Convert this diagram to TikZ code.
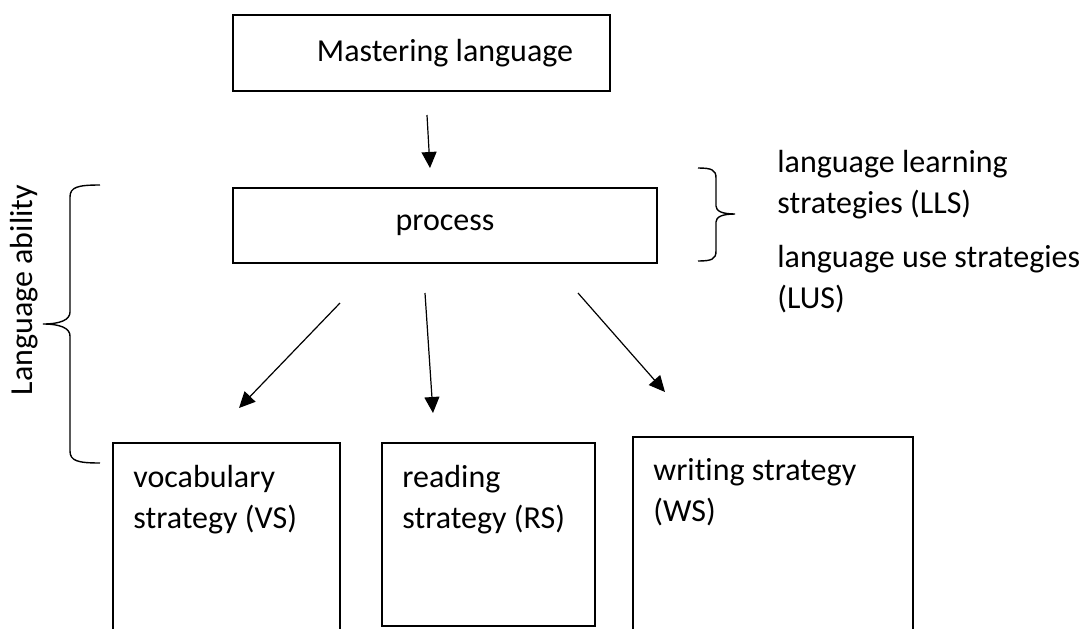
\documentclass[tikz,border=0pt]{standalone}
\usepackage{fontspec}
\setmainfont{Carlito}[Ligatures=NoCommon]
\usetikzlibrary{arrows.meta}

\tikzset{
  box/.style={draw, line width=0.7pt, inner sep=0pt},
  txt/.style={font=\fontsize{16}{20.5}\selectfont, inner sep=0pt},
  btxt/.style={txt, align=left, anchor=north west},
  arr/.style={-{Triangle[length=8pt,width=7.5pt]}, line width=0.6pt},
  brc/.style={line width=0.7pt},
}

\begin{document}
\begin{tikzpicture}[x=0.5pt,y=-0.5pt]
\clip (0,0) rectangle (1084,628);

% top
\node[box, minimum width=188.5pt, minimum height=38pt] (master) at (421.5,53) {};
\node[txt] (mastertxt) at (445,53) {Mastering language};

\node[box, txt, minimum width=212pt, minimum height=37.5pt] (proc) at (445,225.5) {process};

% bottom boxes
\node[box, minimum width=113.5pt, minimum height=118.5pt] (vs) at (226.5,561.5) {};
\node[btxt] (vstxt) at (133,465) {vocabulary\\strategy (VS)};

\node[box, minimum width=106.5pt, minimum height=91.5pt] (rs) at (488.5,534.5) {};
\node[btxt] (rstxt) at (402,465) {reading\\strategy (RS)};

\node[box, minimum width=140pt, minimum height=121.5pt] (ws) at (773,558.5) {};
\node[btxt] (wstxt) at (653,458) {writing strategy\\(WS)};

% arrows
\coordinate (a0s) at (427,115);
\coordinate (a0e) at (430,168);
\draw[arr] (a0s) -- (a0e);

\coordinate (a1s) at (340,303);
\coordinate (a1e) at (239,408);
\draw[arr] (a1s) -- (a1e);

\coordinate (a2s) at (425,293);
\coordinate (a2e) at (433,413);
\draw[arr] (a2s) -- (a2e);

\coordinate (a3s) at (578,293);
\coordinate (a3e) at (665,392);
\draw[arr] (a3s) -- (a3e);

% right brace
\draw[brc] (698,168) .. controls (712,168) and (716,170) .. (716,178) -- (716,206)
  .. controls (716,211) and (722,214) .. (735,214)
  .. controls (722,214) and (716,217) .. (716,222) -- (716,251)
  .. controls (716,259) and (712,261) .. (698,261);
\node[btxt] (lls) at (777,150) {language learning\\strategies (LLS)};
\node[btxt] (lus) at (777,245) {language use strategies\\(LUS)};

% left brace
\draw[brc] (100,185) .. controls (78,185) and (70,187) .. (70,197) -- (70,312)
  .. controls (70,320) and (60,324) .. (43,324)
  .. controls (60,324) and (70,328) .. (70,336) -- (70,451)
  .. controls (70,461) and (78,463) .. (100,463);
\node[txt, rotate=90] (ability) at (24,290) {Language ability};

\end{tikzpicture}
\end{document}
